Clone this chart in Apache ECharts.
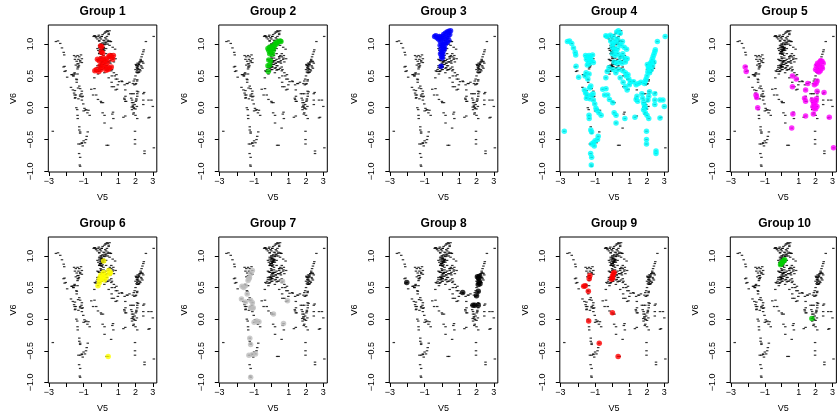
<!DOCTYPE html>
<html>
<head>
<meta charset="utf-8">
<script src="https://cdn.jsdelivr.net/npm/echarts@6/dist/echarts.min.js"></script>
<style>
  html, body { margin: 0; padding: 0; background: #fff; }
  #chart { width: 838px; height: 414px; }
</style>
</head>
<body>
<div id="chart"></div>
<script>
// points [V5, V6] of each group
const group1 = [
  [-0.02, 0.97], [0.05, 0.96], [0.02, 0.88], [0.1, 0.86],
  [-0.2, 0.76], [-0.1, 0.74], [0.0, 0.77], [0.08, 0.72], [0.15, 0.78], [0.22, 0.74], [0.3, 0.76],
  [0.38, 0.72], [0.45, 0.8], [0.52, 0.82], [0.6, 0.8], [0.68, 0.76], [0.72, 0.82],
  [-0.05, 0.66], [0.05, 0.64], [0.15, 0.68], [0.25, 0.63], [0.35, 0.66], [0.5, 0.62], [0.6, 0.64],
  [-0.35, 0.58], [-0.25, 0.6], [-0.12, 0.57], [0.0, 0.6], [0.3, 0.59], [0.42, 0.6]
]
const group2 = [
  [-0.2, 0.93], [-0.15, 0.9], [-0.1, 0.95], [-0.05, 0.88], [0.0, 0.92], [0.05, 0.97], [0.1, 0.9],
  [0.15, 0.95], [0.2, 0.99], [0.25, 1.02], [0.3, 1.0], [0.4, 1.04], [0.5, 1.05], [0.55, 1.04],
  [-0.1, 0.85], [0.05, 0.84], [-0.15, 0.75], [-0.05, 0.74], [-0.2, 0.66], [-0.1, 0.67], [-0.18, 0.57]
]
const group3 = [
  [-0.42, 1.12], [-0.35, 1.13], [-0.28, 1.1], [-0.2, 1.08], [-0.15, 1.12], [-0.1, 1.05], [-0.05, 1.1],
  [0.0, 1.08], [0.05, 1.12], [0.1, 1.15], [0.2, 1.17], [0.3, 1.19], [0.4, 1.2], [0.5, 1.21],
  [0.45, 1.15], [0.35, 1.12], [0.25, 1.1], [0.15, 1.06], [0.4, 1.06], [0.3, 1.03], [0.2, 1.0],
  [0.1, 1.0], [0.0, 1.0], [-0.1, 0.98], [0.05, 0.95], [0.15, 0.94], [-0.05, 0.92], [0.1, 0.9],
  [0.0, 0.88], [-0.08, 0.85], [0.05, 0.84], [-0.02, 0.8], [0.02, 0.78], [-0.05, 0.65]
]
const group4 = [
  // left arc
  [-2.78, -0.37],
  [-2.6, 1.04], [-2.48, 1.05], [-2.35, 1.01], [-2.25, 0.94], [-2.15, 0.87], [-2.12, 0.83], [-2.1, 0.65], [-1.95, 0.48],
  [-1.55, 0.82], [-1.45, 0.8], [-1.35, 0.82], [-1.25, 0.8], [-1.15, 0.83], [-1.5, 0.76], [-1.4, 0.73],
  [-1.3, 0.76], [-1.2, 0.74], [-1.1, 0.71], [-1.35, 0.69], [-1.45, 0.67],
  [-1.52, 0.55], [-1.58, 0.5], [-1.35, 0.53], [-1.42, 0.45], [-1.25, 0.34], [-1.32, 0.31], [-1.62, 0.28],
  [-1.55, 0.23], [-1.45, 0.2], [-1.5, 0.15], [-1.3, 0.14], [-1.2, 0.2], [-1.12, 0.22], [-1.1, 0.12],
  [-1.02, 0.06], [-0.95, -0.01], [-0.9, -0.04], [-0.78, -0.08], [-0.65, -0.12],
  [-1.35, -0.12], [-1.34, -0.17], [-1.25, -0.35], [-1.2, -0.38], [-0.82, -0.45], [-0.86, -0.5],
  [-1.2, -0.57], [-1.1, -0.55], [-1.0, -0.52], [-1.05, -0.6], [-1.26, -0.72], [-1.2, -0.78], [-1.22, -0.9],
  // middle
  [-0.56, 0.29], [-0.45, 0.2], [-0.37, 0.3], [-0.27, 0.2], [-0.17, 0.13], [0.02, 0.08], [0.1, -0.08],
  [0.21, -0.12], [0.21, -0.24], [0.72, -0.17],
  // top cluster
  [-0.38, 1.13], [-0.3, 1.12], [-0.12, 1.14], [0.05, 1.12], [0.25, 1.19], [0.35, 1.21], [0.45, 1.17],
  [-0.1, 1.05], [0.0, 1.0], [0.1, 1.02], [0.2, 1.05], [0.3, 1.08], [0.4, 1.0], [0.5, 0.98], [0.58, 1.04],
  [0.0, 0.95], [0.1, 0.92], [0.2, 0.9], [0.3, 0.93], [0.68, 0.95], [0.82, 0.92],
  [0.0, 0.85], [0.15, 0.82], [0.3, 0.85], [0.45, 0.8], [0.6, 0.85], [0.7, 0.78], [0.85, 0.77],
  [0.1, 0.72], [0.25, 0.7], [0.4, 0.72], [0.55, 0.7], [0.75, 0.72],
  [-0.3, 0.57], [-0.2, 0.63], [0.05, 0.6], [0.2, 0.55], [0.35, 0.6], [0.6, 0.58], [0.75, 0.55],
  [0.9, 0.52], [0.95, 0.45], [0.8, 0.5],
  [-0.38, 0.47], [0.45, 0.47], [0.62, 0.4], [0.75, 0.33], [0.85, 0.28],
  // between
  [1.05, 0.41], [1.23, 0.41], [1.37, 0.36], [0.98, 0.36], [1.5, 0.38], [1.65, 0.4],
  [1.42, 0.18], [1.37, 0.13], [1.46, 0.1], [1.3, -0.15],
  // right arc
  [1.85, 0.38], [1.9, 0.42], [1.95, 0.45], [2.0, 0.5], [2.05, 0.56], [2.1, 0.62], [2.15, 0.66],
  [2.2, 0.7], [2.25, 0.72], [2.3, 0.76], [2.35, 0.8], [2.4, 0.84], [2.45, 0.88], [2.48, 0.91],
  [2.15, 0.55], [2.25, 0.6], [2.32, 0.66], [2.4, 0.72], [2.02, 0.68], [2.08, 0.63],
  [2.6, 1.04], [3.05, 1.12],
  // right lower
  [1.7, 0.22], [1.75, 0.15], [1.8, 0.08], [1.85, 0.04], [1.9, 0.0], [1.8, -0.03], [1.9, -0.08],
  [2.0, -0.12], [2.1, -0.17], [2.05, 0.12], [2.1, 0.18], [2.15, 0.25], [2.45, 0.22], [2.45, 0.12],
  [2.45, 0.05], [2.75, 0.12], [2.92, 0.12], [3.0, 0.02], [2.75, -0.16],
  [1.97, -0.37], [1.97, -0.5], [1.97, -0.57], [2.52, -0.68], [2.52, -0.72]
]
const group5 = [
  [-2.16, 0.64], [-2.1, 0.57], [-1.52, 0.2], [-1.48, 0.16], [-1.42, 0.0],
  [0.63, 0.5], [0.86, 0.45], [0.63, 0.33], [0.66, -0.1], [0.59, -0.32],
  [1.54, 0.38], [1.41, 0.28], [1.35, 0.15], [1.41, 0.1], [1.41, -0.13], [1.87, -0.1],
  [1.93, 0.36], [2.03, 0.38], [2.09, 0.42], [2.09, 0.26], [2.5, 0.24],
  [1.8, 0.12], [1.88, 0.08], [1.95, 0.05], [2.02, 0.1], [2.08, 0.02], [1.92, -0.01], [2.0, -0.02],
  [2.05, 0.14], [1.85, 0.02],
  [2.0, 0.6], [2.05, 0.66], [2.1, 0.58], [2.15, 0.62], [2.2, 0.68], [2.25, 0.72], [2.3, 0.74],
  [2.38, 0.73], [2.45, 0.7], [2.35, 0.64], [2.28, 0.58], [2.2, 0.56], [2.4, 0.62], [2.12, 0.7],
  [2.81, -0.15], [3.06, -0.63]
]
const group6 = [
  [0.16, 0.92], [-0.17, 0.53], [-0.1, 0.62], [-0.05, 0.66], [0.0, 0.7], [0.05, 0.64], [0.1, 0.68],
  [0.15, 0.74], [0.2, 0.62], [0.3, 0.66], [0.45, 0.77], [0.5, 0.72], [0.55, 0.74], [0.25, 0.7],
  [-0.08, 0.58], [0.42, -0.59]
]
const group7 = [
  [-1.1, 0.77], [-1.2, 0.72], [-1.27, 0.66], [-1.3, 0.64], [-1.35, 0.61], [-1.7, 0.52], [-1.6, 0.5],
  [-1.5, 0.53], [-1.4, 0.4], [-1.73, 0.32], [-1.5, 0.27], [-1.2, 0.3], [-1.1, 0.26], [-1.05, 0.18],
  [-1.2, 0.18], [-1.1, 0.17], [-1.0, -0.05], [-0.85, -0.03], [-0.72, -0.04], [-1.25, -0.3],
  [-1.2, -0.4], [-1.3, -0.57], [-1.1, -0.56], [-0.92, -0.55], [-1.2, -0.92],
  [0.12, 0.08], [0.64, 0.6], [0.7, -0.07], [0.93, 0.29]
]
const group8 = [
  [-2.03, 0.58], [1.2, 0.42], [1.8, 0.22], [1.9, 0.22], [2.1, 0.22], [2.0, 0.37], [2.1, 0.44],
  [2.05, 0.67], [2.12, 0.65], [2.15, 0.6], [2.2, 0.56], [2.1, 0.55], [2.18, 0.68]
]
const group9 = [
  [-1.3, 0.69], [-1.34, 0.64], [-1.66, 0.52], [-1.57, 0.53], [-1.39, 0.44], [-1.37, -0.03],
  [-0.76, -0.38], [0.0, 0.1], [0.33, -0.59], [-0.05, 0.63], [0.0, 0.68], [0.05, 0.72], [0.1, 0.74],
  [0.02, 0.65]
]
const group10 = [
  [-0.07, 0.86], [-0.03, 0.88], [0.03, 0.9], [0.07, 0.91], [0.12, 0.93], [0.17, 0.94], [1.78, 0.01]
]

const groups = [group1, group2, group3, group4, group5, group6, group7, group8, group9, group10]
const groupNames = ['Group 1', 'Group 2', 'Group 3', 'Group 4', 'Group 5',
  'Group 6', 'Group 7', 'Group 8', 'Group 9', 'Group 10']
const groupColors = ['#ff0000', '#00cd00', '#0000ff', '#00ffff', '#ff00ff',
  '#ffff00', '#bebebe', '#000000', '#ff0000', '#00cd00']
const xTicks = [-3, -2, -1, 0, 1, 2, 3]
const xTickLabels = [-3, -1, 1, 2, 3]
const yTicks = [-1, -0.5, 0, 0.5, 1]

// every point, drawn as small black dashes behind each panel
const allPoints = [].concat(...groups)

const minus = (s) => s.replace('-', '\u2212')

const chart = echarts.init(document.getElementById('chart'))

const grid = []
const xAxis = []
const yAxis = []
const series = []
const graphic = []

groups.forEach((pts, i) => {
  const col = i % 5
  const row = Math.floor(i / 5)
  const left = 48.3 + col * 170.5
  const top = 25 + row * 212
  const width = 108.5
  const height = 147

  grid.push({
    left: left, top: top, width: width, height: height,
    show: true, borderColor: '#000', borderWidth: 1, backgroundColor: 'transparent',
  })
  xAxis.push({
    gridIndex: i,
    type: 'value',
    min: -3.04,
    max: 3.23,
    axisLine: { show: false, onZero: false },
    axisTick: { show: true, customValues: xTicks, length: 4, lineStyle: { color: '#000' } },
    axisLabel: {
      customValues: xTickLabels, margin: 5, fontSize: 9, color: '#000',
      formatter: (v) => minus(String(v)),
    },
    splitLine: { show: false },
    name: 'V5',
    nameLocation: 'middle',
    nameGap: 21,
    nameTextStyle: { fontSize: 9, color: '#000' },
  })
  yAxis.push({
    gridIndex: i,
    type: 'value',
    min: -1.01,
    max: 1.3,
    axisLine: { show: false, onZero: false },
    axisTick: { show: true, customValues: yTicks, length: 4, lineStyle: { color: '#000' } },
    axisLabel: {
      customValues: yTicks, margin: 13, fontSize: 9, color: '#000', rotate: 90,
      formatter: (v) => minus(Number(v).toFixed(1)),
    },
    splitLine: { show: false },
    name: 'V6',
    nameLocation: 'middle',
    nameRotate: 90,
    nameGap: 30,
    nameTextStyle: { fontSize: 9, color: '#000' },
  })
  series.push({
    type: 'scatter',
    xAxisIndex: i, yAxisIndex: i,
    data: allPoints,
    symbol: 'rect',
    symbolSize: [2.5, 1.2],
    itemStyle: { color: '#000' },
    silent: true,
  })
  series.push({
    type: 'scatter',
    xAxisIndex: i, yAxisIndex: i,
    data: pts,
    symbol: 'circle',
    symbolSize: 5.5,
    itemStyle: { color: groupColors[i] },
    silent: true,
  })
  graphic.push({
    type: 'text',
    x: left + width / 2,
    y: 11.7 + row * 212,
    style: {
      text: groupNames[i],
      font: 'bold 12px "Liberation Sans", Arial, sans-serif',
      fill: '#000',
      align: 'center',
      verticalAlign: 'middle',
    },
  })
})

chart.setOption({
  animation: false,
  textStyle: { fontFamily: '"Liberation Sans", Arial, sans-serif' },
  grid: grid,
  xAxis: xAxis,
  yAxis: yAxis,
  series: series,
  graphic: graphic,
})
</script>
</body>
</html>
